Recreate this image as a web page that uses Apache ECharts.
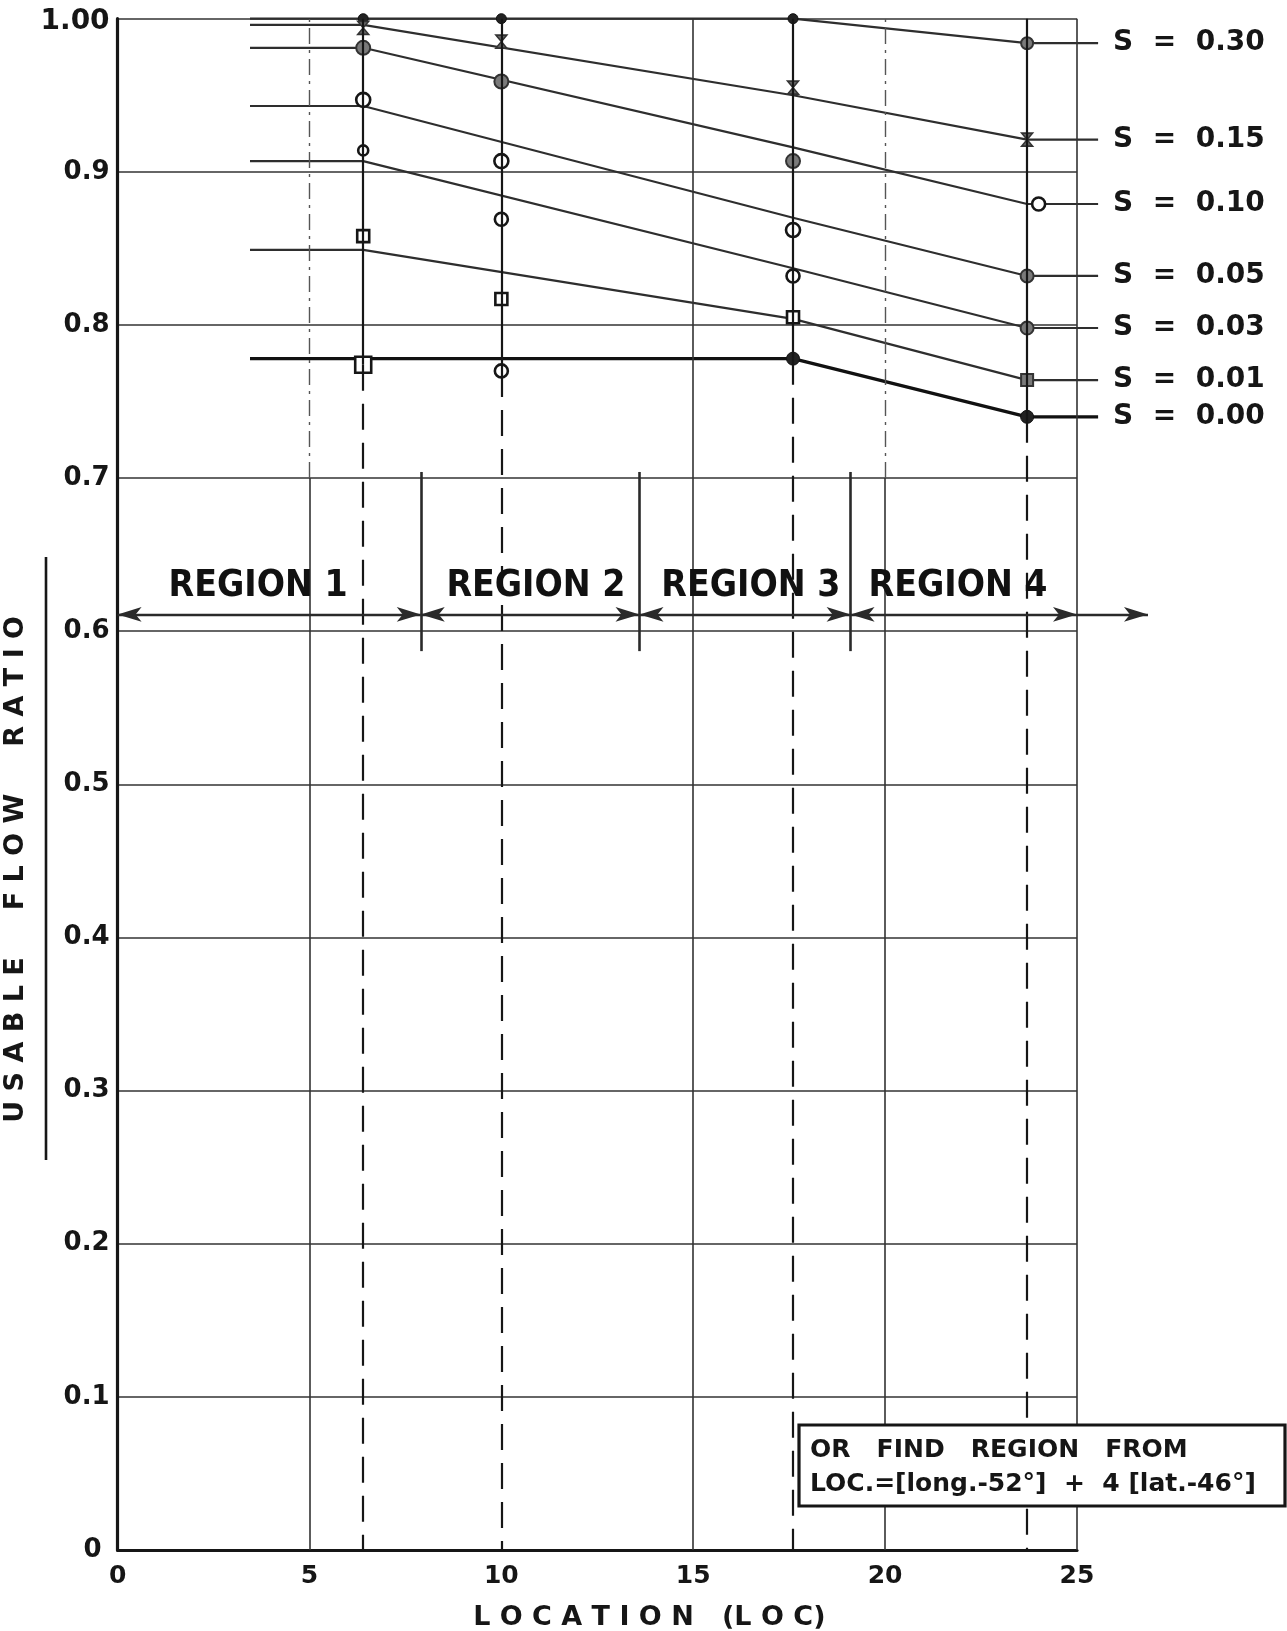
<!DOCTYPE html>
<html><head><meta charset="utf-8">
<script src="https://cdn.jsdelivr.net/npm/echarts@6/dist/echarts.min.js"></script>
<style>html,body{margin:0;padding:0;background:#fff}#c{width:1287px;height:1631px}</style>
</head><body><div id="c"></div>
<script>
// ---------- DATA ----------
const stations = [6.4, 10, 17.6, 23.7];
const seriesNames = ['S = 0.30', 'S = 0.15', 'S = 0.10', 'S = 0.05', 'S = 0.03', 'S = 0.01', 'S = 0.00'];
// observed points (x positions and values)
const obsX_S030 = [6.4, 10, 17.6, 23.7];   const obs_S030 = [1.000, 1.000, 1.000, 0.984];
const obsX_S015 = [6.4, 10, 17.6, 23.7];   const obs_S015 = [0.994, 0.985, 0.955, 0.921];
const obsX_S010 = [6.4, 10, 17.6, 24.0];   const obs_S010 = [0.981, 0.959, 0.907, 0.879];
const obsX_S005 = [6.4, 10, 17.6, 23.7];   const obs_S005 = [0.947, 0.907, 0.862, 0.832];
const obsX_S003 = [6.4, 10, 17.6, 23.7];   const obs_S003 = [0.914, 0.869, 0.832, 0.798];
const obsX_S001 = [6.4, 10, 17.6, 23.7];   const obs_S001 = [0.858, 0.817, 0.805, 0.764];
const obsX_S000 = [6.4, 10, 17.6, 23.7];   const obs_S000 = [0.774, 0.770, 0.778, 0.740];
// drawn curves (knots)
const curveX = [3.45, 6.4, 17.6, 23.7, 25.55];
const curve_S030 = [1.000, 1.000, 1.000, 0.984, 0.984];
const curve_S015 = [0.996, 0.996, 0.950, 0.921, 0.921];
const curve_S010 = [0.981, 0.981, 0.916, 0.879, 0.879];
const curve_S005 = [0.943, 0.943, 0.870, 0.832, 0.832];
const curve_S003 = [0.907, 0.907, 0.837, 0.798, 0.798];
const curve_S001 = [0.849, 0.849, 0.804, 0.764, 0.764];
const curve_S000 = [0.778, 0.778, 0.778, 0.740, 0.740];
// regions
const regionBounds = [0, 7.9, 13.6, 19.1, 25];
const regionExtraArrowEnd = 26.85;
const regionNames = ['REGION 1', 'REGION 2', 'REGION 3', 'REGION 4'];
const regionLabelX = [3.66, 10.9, 16.5, 21.9];
const regionLabelY = 0.629;
const regionArrowY = 0.611;
const regionDividerRange = [0.587, 0.704];
// axes / grid
const xTicks = [0, 5, 10, 15, 20, 25];
const xGridSolid = [15, 25];          // solid full height
const xGridHalfDashed = [5, 20];      // solid below 0.7, dashed above
const gridBreakY = 0.7;
const noteLines = ['OR   FIND   REGION   FROM', 'LOC.=[long.-52°]  +  4 [lat.-46°]'];

// ---------- BUILD ----------
const FONT = 'DejaVu Sans';
const INK = '#161616';
const W = 1287, GL = 117.6, GR = 210, GT = 18.7, GB = 81;
const XMAX = 25;
const XMAX_WIDE = XMAX * (W - GL) / (W - GL - GR);

const curves = [curve_S030, curve_S015, curve_S010, curve_S005, curve_S003, curve_S001, curve_S000];
const obsXs = [obsX_S030, obsX_S015, obsX_S010, obsX_S005, obsX_S003, obsX_S001, obsX_S000];
const obsYs = [obs_S030, obs_S015, obs_S010, obs_S005, obs_S003, obs_S001, obs_S000];

const hourglass = 'path://M0,0 L10,0 L0,12 L10,12 Z';
function markerStyle(si, pi) {
  const open = {color: '#fff', borderColor: INK, borderWidth: 2.6, opacity: 1};
  const gray = {color: '#7a7a7a', borderColor: '#333', borderWidth: 2, opacity: 1};
  const solid = {color: '#222', borderColor: '#111', borderWidth: 1, opacity: 1};
  switch (si) {
    case 0: return pi === 3 ? {symbol: 'circle', symbolSize: 12, itemStyle: gray} : {symbol: 'circle', symbolSize: 10, itemStyle: solid};
    case 1: return {symbol: hourglass, symbolSize: [11, 13], itemStyle: {color: '#666', borderColor: '#333', borderWidth: 1.5, opacity: 1}};
    case 2: return pi === 3 ? {symbol: 'circle', symbolSize: 13, itemStyle: open} : {symbol: 'circle', symbolSize: 14, itemStyle: gray};
    case 3: return pi === 3 ? {symbol: 'circle', symbolSize: 13, itemStyle: gray} : {symbol: 'circle', symbolSize: 14, itemStyle: open};
    case 4: return pi === 3 ? {symbol: 'circle', symbolSize: 13, itemStyle: gray} : {symbol: 'circle', symbolSize: pi === 0 ? 10 : 13, itemStyle: open};
    case 5: return pi === 3 ? {symbol: 'rect', symbolSize: 12, itemStyle: gray} : {symbol: 'rect', symbolSize: 12, itemStyle: open};
    default:
      if (pi === 0) return {symbol: 'rect', symbolSize: 16, itemStyle: open};
      if (pi === 1) return {symbol: 'circle', symbolSize: 13, itemStyle: open};
      return {symbol: 'circle', symbolSize: 13, itemStyle: solid};
  }
}

const series = [];
// vertical grid lines (grid 0)
const vGrid = [];
xGridSolid.forEach(x => vGrid.push([{coord: [x, 0]}, {coord: [x, 1]}]));
xGridHalfDashed.forEach(x => {
  vGrid.push([{coord: [x, 0]}, {coord: [x, gridBreakY]}]);
  vGrid.push([{coord: [x, gridBreakY], lineStyle: {type: [16, 6, 3, 6], color: '#555', width: 1.4}}, {coord: [x, 1]}]);
});
series.push({
  type: 'line', data: [], xAxisIndex: 0, yAxisIndex: 0, z: 1, silent: true,
  markLine: {silent: true, symbol: ['none', 'none'], label: {show: false}, animation: false,
    lineStyle: {color: '#333', width: 1.6, type: 'solid'}, data: vGrid}
});
// curves with end labels (wide grid 1)
curves.forEach((c, si) => {
  series.push({
    type: 'line', name: seriesNames[si], xAxisIndex: 1, yAxisIndex: 1, clip: false, z: 3, silent: true,
    data: curveX.map((x, i) => [x, c[i]]),
    symbol: 'none',
    lineStyle: {color: si === 6 ? '#111' : '#2e2e2e', width: si === 6 ? 3.4 : 2.2},
    endLabel: {show: true, formatter: seriesNames[si].replace(/ = /, '  =  '), distance: 15,
      fontFamily: FONT, fontWeight: 'bold', fontSize: 28, color: INK}
  });
});
// observed points
obsYs.forEach((ys, si) => {
  series.push({
    type: 'scatter', xAxisIndex: 1, yAxisIndex: 1, z: 4, clip: false, silent: true,
    data: ys.map((y, pi) => Object.assign({value: [obsXs[si][pi], y]}, markerStyle(si, pi)))
  });
});
// station lines: solid across data, dashed below
const stationLines = [];
stations.forEach((x, k) => {
  let lo = Infinity;
  obsYs.forEach((ys, si) => { if (Math.abs(obsXs[si][k] - x) < 0.05) lo = Math.min(lo, ys[k]); });
  stationLines.push([{coord: [x, 1], lineStyle: {type: 'solid', width: 2.2}}, {coord: [x, lo]}]);
  stationLines.push([{coord: [x, lo], lineStyle: {type: [26, 13], width: 2.2}}, {coord: [x, 0]}]);
});
// region dividers and arrows
const regionLines = [];
regionBounds.slice(1, -1).forEach(x => {
  regionLines.push([{coord: [x, regionDividerRange[0]], symbol: 'none', lineStyle: {width: 2.6}}, {coord: [x, regionDividerRange[1]], symbol: 'none'}]);
});
for (let i = 0; i < regionBounds.length - 1; i++) {
  regionLines.push([{coord: [regionBounds[i], regionArrowY], symbol: 'arrow'}, {coord: [regionBounds[i + 1], regionArrowY], symbol: 'arrow'}]);
}
regionLines.push([{coord: [regionBounds[regionBounds.length - 1], regionArrowY], symbol: 'none'}, {coord: [regionExtraArrowEnd, regionArrowY], symbol: 'arrow'}]);

series.push({
  type: 'line', data: [], xAxisIndex: 1, yAxisIndex: 1, z: 5, clip: false, silent: true,
  markLine: {silent: true, symbol: ['none', 'none'], label: {show: false}, animation: false,
    lineStyle: {color: INK, width: 2.2, type: 'solid'}, data: stationLines}
});
series.push({
  type: 'line', data: [], xAxisIndex: 1, yAxisIndex: 1, z: 5, clip: false, silent: true,
  markLine: {silent: true, symbol: ['arrow', 'arrow'], symbolSize: [11, 24], label: {show: false}, animation: false,
    lineStyle: {color: '#2a2a2a', width: 2.4, type: 'solid'}, data: regionLines}
});
// region labels
series.push({
  type: 'scatter', xAxisIndex: 1, yAxisIndex: 1, z: 6, silent: true, symbolSize: 1,
  itemStyle: {opacity: 0},
  data: regionNames.map((n, i) => ({value: [regionLabelX[i], regionLabelY], name: n})),
  label: {show: true, position: 'inside', formatter: p => p.name, opacity: 1,
    fontFamily: 'DejaVu Sans Condensed, DejaVu Sans', fontWeight: 'bold', fontSize: 37, color: '#111'}
});

const axisFont = {fontFamily: FONT, fontWeight: 'bold', color: INK};
const option = {
  animation: false,
  backgroundColor: '#fff',
  grid: [
    {left: GL, right: GR, top: GT, bottom: GB, containLabel: false, outerBoundsMode: 'none'},
    {left: GL, right: 0, top: GT, bottom: GB, containLabel: false, outerBoundsMode: 'none'}
  ],
  xAxis: [{
    gridIndex: 0, type: 'value', min: 0, max: XMAX, interval: 5,
    name: 'L O C A T I O N   (L O C)', nameLocation: 'middle', nameGap: 54,
    nameTextStyle: Object.assign({fontSize: 27, padding: [0, 0, 0, 104]}, axisFont),
    axisLine: {show: true, onZero: false, lineStyle: {color: INK, width: 3.2}},
    axisTick: {show: false},
    axisLabel: Object.assign({fontSize: 25, margin: 14, formatter: v => xTicks.includes(v) ? String(v) : ''}, axisFont),
    splitLine: {show: false}
  }, {
    gridIndex: 1, type: 'value', min: 0, max: XMAX_WIDE, show: false
  }],
  yAxis: [{
    gridIndex: 0, type: 'value', min: 0, max: 1, interval: 0.1,
    name: 'U S A B L E     F L O W     R A T I O', nameLocation: 'middle', nameRotate: 90, nameGap: 63,
    nameTextStyle: Object.assign({fontSize: 27, padding: [0, 170, 0, 0]}, axisFont),
    axisLine: {show: true, onZero: false, lineStyle: {color: INK, width: 3.2}},
    axisTick: {show: false},
    axisLabel: Object.assign({fontSize: 26, margin: 8,
      formatter: v => {
        const r = Math.round(v * 10) / 10;
        if (r === 1) return '{big|1.00}';
        if (r === 0) return '{zero|0}';
        return r.toFixed(1);
      },
      rich: {big: Object.assign({fontSize: 28, padding: [6, 0, 0, 0]}, axisFont),
             zero: Object.assign({fontSize: 26, padding: [0, 8, 0, 0]}, axisFont)}
    }, axisFont),
    splitLine: {show: true, lineStyle: {color: '#333', width: 1.6}}
  }, {
    gridIndex: 1, type: 'value', min: 0, max: 1, show: false
  }],
  graphic: [
    {type: 'line', shape: {x1: 46, y1: 557, x2: 46, y2: 1160}, style: {stroke: INK, lineWidth: 2.6}, z: 10},
    {type: 'rect', shape: {x: 799, y: 1425, width: 486, height: 81}, style: {fill: '#fff', stroke: INK, lineWidth: 3.2}, z: 10},
    {type: 'text', x: 810, y: 1450, style: {text: noteLines[0], fontFamily: FONT, fontWeight: 'bold', fontSize: 25, fill: INK, verticalAlign: 'middle'}, z: 11},
    {type: 'text', x: 810, y: 1484, style: {text: noteLines[1], fontFamily: FONT, fontWeight: 'bold', fontSize: 25, fill: INK, verticalAlign: 'middle'}, z: 11}
  ],
  series: series
};
const chart = echarts.init(document.getElementById('c'), null, {renderer: 'canvas'});
chart.setOption(option);
</script></body></html>
